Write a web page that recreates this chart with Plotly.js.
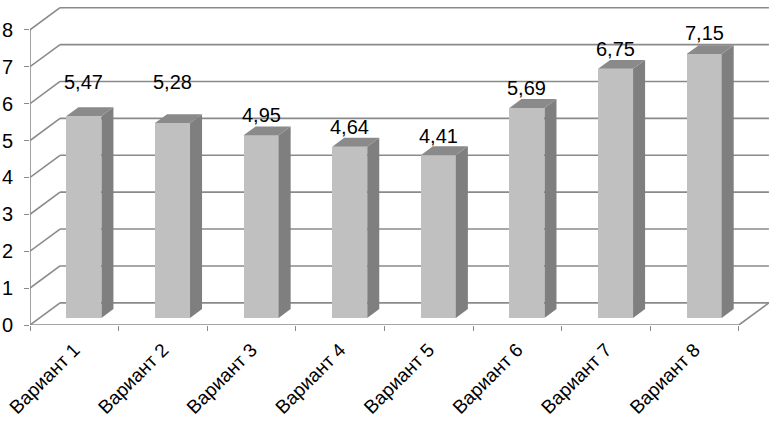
<!DOCTYPE html>
<html>
<head>
<meta charset="utf-8">
<script src="https://cdn.plot.ly/plotly-3.0.1.min.js"></script>
<style>html,body{margin:0;padding:0;background:#fff;}#chart{width:773px;height:421px;}</style>
</head>
<body>
<div id="chart"></div>
<script>
// ---- data ----
const categories = ['Вариант 1','Вариант 2','Вариант 3','Вариант 4','Вариант 5','Вариант 6','Вариант 7','Вариант 8'];
const values = [5.47, 5.28, 4.95, 4.64, 4.41, 5.69, 6.75, 7.15];
const valueLabels = ['5,47','5,28','4,95','4,64','4,41','5,69','6,75','7,15'];
const yTicks = [0,1,2,3,4,5,6,7,8];

// ---- pseudo-3D geometry (styling) ----
const DX = 0.339;   // depth offset in x units
const DY = 0.60;    // depth offset in y units
const F1 = 0.32, F2 = 0.72; // bar front / back depth fractions
const BW = 0.395;   // bar width
const labelLift = [34, 41, 20, 20, 19, 20, 20, 21]; // px above front top edge
const n = categories.length;
const gridColor = '#8a8a8a';
const FONT = 'Liberation Sans, Arial, sans-serif';

const shapes = [];
function seg(x0, y0, x1, y1, w) {
  shapes.push({type:'line', xref:'x', yref:'y', x0, y0, x1, y1, layer:'below',
    line:{color:gridColor, width:w || 1.6}});
}
yTicks.forEach(v => {
  seg(DX, v + DY, n + DX, v + DY);   // back wall
  seg(0, v, DX, v + DY);             // left wall diagonal
});
seg(0, 0, 0, yTicks[yTicks.length-1]); // front axis
seg(0, 0, n, 0);                       // floor front edge
seg(n, 0, n + DX, DY);                 // floor right edge

const centers = categories.map((c, i) => i + 0.5);
const barX = centers.map(c => c + F1 * DX);
const base = F1 * DY;
const ddx = (F2 - F1) * DX, ddy = (F2 - F1) * DY;

const sideX = [], sideY = [], topX = [], topY = [];
values.forEach((v, i) => {
  const xl = barX[i] - BW / 2, xr = barX[i] + BW / 2;
  const yt = base + v;
  sideX.push(xr, xr, xr + ddx, xr + ddx, xr, null);
  sideY.push(base, yt, yt + ddy, base + ddy, base, null);
  topX.push(xl, xr, xr + ddx, xl + ddx, xl, null);
  topY.push(yt, yt, yt + ddy, yt + ddy, yt, null);
});

const traces = [
  {type:'bar', x:barX, y:values, base:values.map(() => base), width:BW,
   marker:{color:'#c0c0c0', line:{width:0}}, hoverinfo:'skip', showlegend:false},
  {type:'scatter', mode:'lines', x:sideX, y:sideY, fill:'toself', fillcolor:'#7f7f7f',
   line:{width:0, color:'#7f7f7f'}, hoverinfo:'skip', showlegend:false},
  {type:'scatter', mode:'lines', x:topX, y:topY, fill:'toself', fillcolor:'#8a8a8a',
   line:{width:0, color:'#8a8a8a'}, hoverinfo:'skip', showlegend:false}
];

const annotations = values.map((v, i) => ({
  x: barX[i], y: base + v, xref:'x', yref:'y', text: valueLabels[i], showarrow:false,
  yanchor:'middle', xanchor:'center', yshift: labelLift[i],
  font:{family:FONT, size:20, color:'#000'}
}));

const layout = {
  width:773, height:421,
  margin:{l:30, r:4, t:4, b:96},
  paper_bgcolor:'#fff', plot_bgcolor:'rgba(0,0,0,0)',
  font:{family:FONT, size:20, color:'#000'},
  showlegend:false,
  xaxis:{range:[0, n + 0.34], autorange:false, fixedrange:true,
    tickmode:'array', tickvals:centers, ticktext:categories, tickangle:-45,
    ticks:'', showgrid:false, zeroline:false, showline:false, ticklabelstandoff:9,
    minor:{tickmode:'array', tickvals:categories.map((c,i)=>i).concat([n]), ticks:'outside', ticklen:5, tickwidth:1, tickcolor:gridColor, showgrid:false},
    tickfont:{family:FONT, size:19, color:'#000'}},
  yaxis:{range:[0, 8.7], autorange:false, fixedrange:true,
    tickmode:'array', tickvals:yTicks, ticktext:yTicks.map(String),
    ticks:'outside', ticklen:5, tickwidth:1, tickcolor:gridColor,
    showgrid:false, zeroline:false, showline:false, ticklabelstandoff:7,
    tickfont:{family:FONT, size:20, color:'#000'}},
  shapes, annotations, bargap:0
};
Plotly.newPlot('chart', traces, layout, {staticPlot:true, displayModeBar:false});
</script>
</body>
</html>
